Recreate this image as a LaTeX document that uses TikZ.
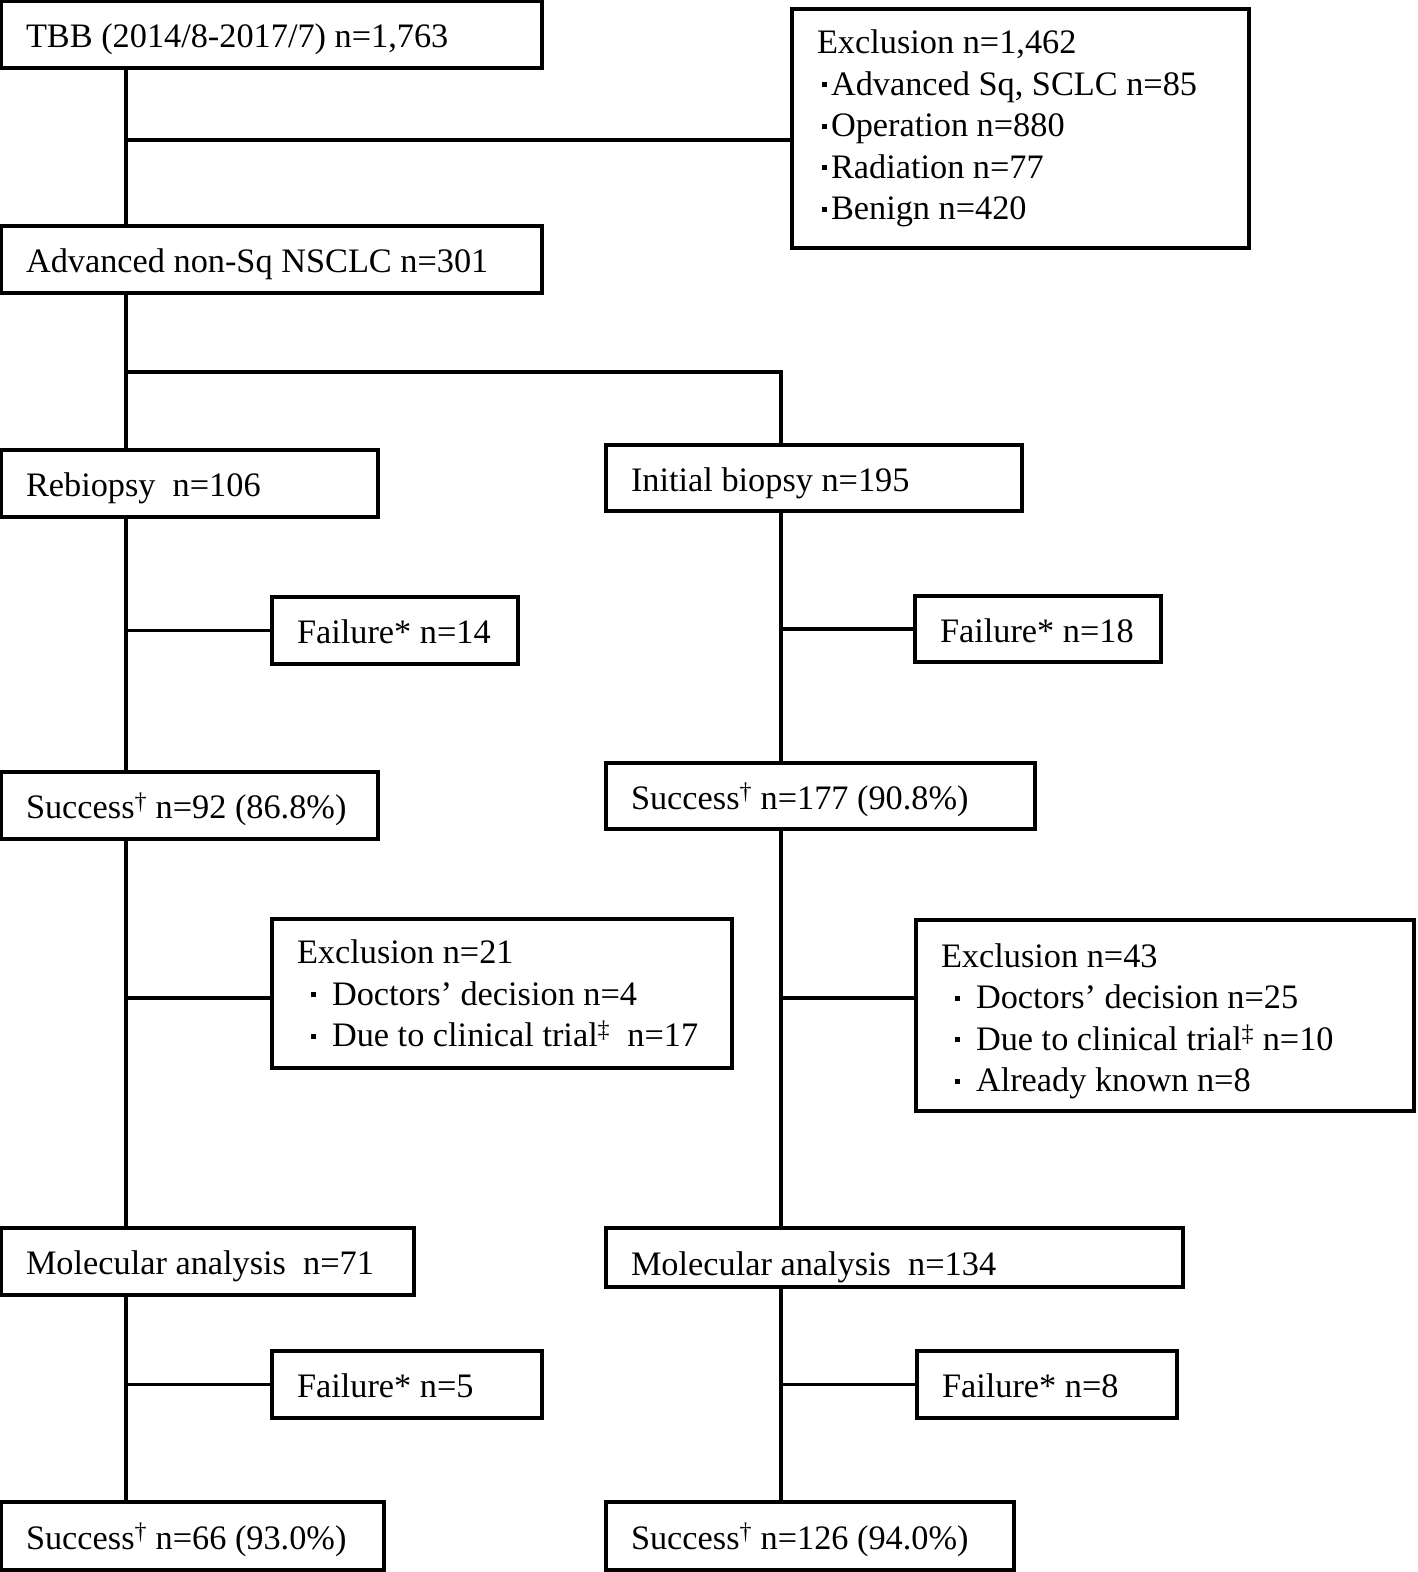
\documentclass[tikz,border=0pt]{standalone}
\usepackage{fontspec}
\setmainfont{Liberation Serif}

\newcommand{\sqbul}{\raisebox{8pt}{\rule{5pt}{5pt}}}

\begin{document}
\begin{tikzpicture}[
    x=1pt, y=-1pt,
    stage/.style={
        draw=black,
        line width=3.5pt,
        anchor=north west,
        outer sep=0pt,
        inner xsep=25pt,
        inner ysep=0pt,
        align=flush left,
        font=\fontsize{34.3}{41.5}\selectfont,
    },
    oneline/.style={stage, text height=26pt, text depth=0pt},
    link/.style={line width=3.5pt},
]
\useasboundingbox (0,0) rectangle (1418,1572);

% boxes, placed at their top left corners (in px)
\node[oneline, text width=491pt, minimum height=67pt] (tbb) at (1,1) {TBB (2014/8-2017/7) n=1,763};
\node[stage, text width=407pt, minimum height=239pt] (excl1) at (792,9) {Exclusion n=1,462\\
\hspace*{5pt}\sqbul\hspace*{4pt}Advanced Sq, SCLC n=85\\
\hspace*{5pt}\sqbul\hspace*{4pt}Operation n=880\\
\hspace*{5pt}\sqbul\hspace*{4pt}Radiation n=77\\
\hspace*{5pt}\sqbul\hspace*{4pt}Benign n=420};
\node[oneline, text width=491pt, minimum height=67pt] (nsclc) at (1,226) {Advanced non-Sq NSCLC n=301};

\node[oneline, text width=327pt, minimum height=67pt] (rebio) at (1,450) {Rebiopsy\ \ n=106};
\node[oneline, text width=366pt, minimum height=66pt] (init) at (606,445) {Initial biopsy n=195};

\node[oneline, text width=196pt, minimum height=67pt] (fail1) at (272,597) {Failure* n=14};
\node[oneline, text width=196pt, minimum height=66pt] (fail2) at (915,596) {Failure* n=18};

\node[oneline, text width=327pt, minimum height=67pt] (succ1) at (1,772) {Success\textsuperscript{\textdagger} n=92 (86.8\%)};
\node[oneline, text width=379pt, minimum height=66pt] (succ2) at (606,763) {Success\textsuperscript{\textdagger} n=177 (90.8\%)};

\node[stage, text width=410pt, minimum height=149pt] (excl2) at (272,919) {Exclusion n=21\\
\hspace*{14pt}\sqbul\hspace*{16pt}Doctors' decision n=4\\
\mbox{\hspace*{14pt}\sqbul\hspace*{16pt}Due to clinical trial\textsuperscript{\textdaggerdbl}\ \ n=17}};
\node[stage, text width=448pt, minimum height=191pt] (excl3) at (916,920) {\rule{0pt}{35pt}Exclusion n=43\\
\hspace*{14pt}\sqbul\hspace*{16pt}Doctors' decision n=25\\
\mbox{\hspace*{14pt}\sqbul\hspace*{16pt}Due to clinical trial\textsuperscript{\textdaggerdbl} n=10}\\
\hspace*{14pt}\sqbul\hspace*{16pt}Already known n=8};

\node[oneline, text width=363pt, minimum height=67pt] (mol1) at (1,1228) {Molecular analysis\ \ n=71};
\node[oneline, text width=527pt, minimum height=59pt, text height=35pt] (mol2) at (606,1228) {Molecular analysis\ \ n=134};

\node[oneline, text width=220pt, minimum height=67pt] (fail3) at (272,1351) {Failure* n=5};
\node[oneline, text width=210pt, minimum height=67pt] (fail4) at (917,1351) {Failure* n=8};

\node[oneline, text width=333pt, minimum height=68pt] (succ3) at (1,1502) {Success\textsuperscript{\textdagger} n=66 (93.0\%)};
\node[oneline, text width=358pt, minimum height=68pt] (succ4) at (606,1502) {Success\textsuperscript{\textdagger} n=126 (94.0\%)};

% connectors
\coordinate (lspine) at (126,0);
\coordinate (rspine) at (781,0);
\coordinate (cut1) at (126,140);
\coordinate (split) at (126,372);
\coordinate (cut2) at (0,998);

\draw[link] (tbb.south -| lspine) -- (nsclc.north -| lspine);
\draw[link] (cut1) -- (cut1 -| excl1.west);
\draw[link] (nsclc.south -| lspine) -- (rebio.north -| lspine);
\draw[link] (split) -- (split -| rspine) -- (init.north -| rspine);

\draw[link] (rebio.south -| lspine) -- (succ1.north -| lspine);
\draw[link] (lspine |- fail1.west) -- (fail1.west);
\draw[link] (init.south -| rspine) -- (succ2.north -| rspine);
\draw[link] (rspine |- fail2.west) -- (fail2.west);

\draw[link] (succ1.south -| lspine) -- (mol1.north -| lspine);
\draw[link] (lspine |- cut2) -- (excl2.west |- cut2);
\draw[link] (succ2.south -| rspine) -- (mol2.north -| rspine);
\draw[link] (rspine |- cut2) -- (excl3.west |- cut2);

\draw[link] (mol1.south -| lspine) -- (succ3.north -| lspine);
\draw[link] (lspine |- fail3.west) -- (fail3.west);
\draw[link] (mol2.south -| rspine) -- (succ4.north -| rspine);
\draw[link] (rspine |- fail4.west) -- (fail4.west);

\end{tikzpicture}
\end{document}
